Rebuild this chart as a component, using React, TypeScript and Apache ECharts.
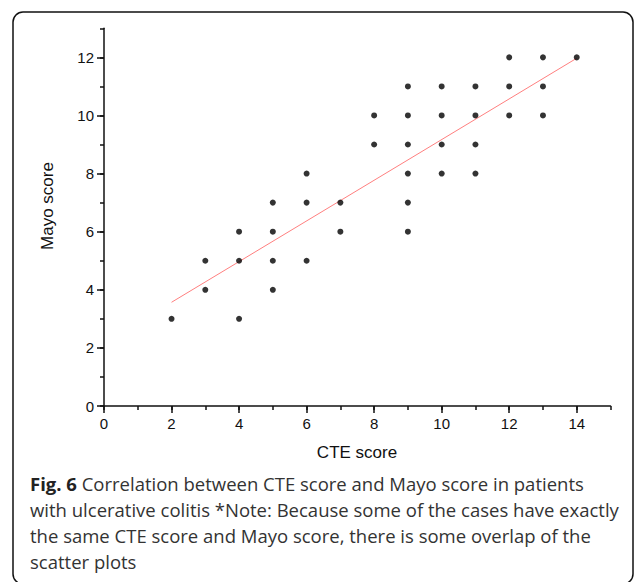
import React, { useEffect, useRef } from "react";
import * as echarts from "echarts";

// CTE score (x) and Mayo score (y) of each plotted point
const cteScores = [2, 3, 3, 4, 4, 4, 5, 5, 5, 5, 6, 6, 6, 7, 7, 8, 8, 9, 9, 9, 9, 9, 9, 10, 10, 10, 10, 11, 11, 11, 11, 12, 12, 12, 13, 13, 13, 14];
const mayoScores = [3, 4, 5, 3, 5, 6, 4, 5, 6, 7, 5, 7, 8, 6, 7, 9, 10, 6, 7, 8, 9, 10, 11, 8, 9, 10, 11, 8, 9, 10, 11, 10, 11, 12, 10, 11, 12, 12];

// fitted regression line end points
const fitX = [2, 14];
const fitY = [3.57, 11.97];

const xMajorTicks = [0, 2, 4, 6, 8, 10, 12, 14];
const yMajorTicks = [0, 2, 4, 6, 8, 10, 12];

const xTitle = "CTE score";
const yTitle = "Mayo score";
const captionBold = "Fig. 6";
const captionLines = [
  " Correlation between CTE score and Mayo score in patients",
  "with ulcerative colitis *Note: Because some of the cases have exactly",
  "the same CTE score and Mayo score, there is some overlap of the",
  "scatter plots",
];

const axisFont = "'Liberation Sans', Arial, sans-serif";

export default function App() {
  const ref = useRef<HTMLDivElement>(null);
  useEffect(() => {
    if (!ref.current) return;
    const chart = echarts.init(ref.current, undefined, { renderer: "svg" });
    const points = cteScores.map((x, i) => [x, mayoScores[i]]);
    const fitLine = fitX.map((x, i) => [x, fitY[i]]);
    const axisLine = { show: true, lineStyle: { color: "#111", width: 1.5 } };
    const baseX = {
      type: "value" as const,
      min: 0,
      max: 15,
      splitLine: { show: false },
    };
    const baseY = {
      type: "value" as const,
      min: 0,
      max: 13,
      splitLine: { show: false },
    };
    chart.setOption({
      animation: false,
      backgroundColor: "#fff",
      grid: { left: 104, right: 23.5, top: 28.3, bottom: 176 },
      xAxis: [
        {
          ...baseX,
          interval: 1,
          axisLine,
          axisTick: { show: true, length: 4, lineStyle: { color: "#111", width: 1.5 } },
          axisLabel: {
            margin: 10,
            fontFamily: axisFont,
            fontSize: 15,
            color: "#111",
            formatter: (v: number) => (xMajorTicks.includes(v) ? String(v) : ""),
          },
        },
        {
          ...baseX,
          interval: 2,
          position: "bottom",
          axisLine: { show: false },
          axisTick: {
            show: true,
            length: 7,
            customValues: xMajorTicks,
            lineStyle: { color: "#111", width: 1.5 },
          },
          axisLabel: { show: false },
        },
      ],
      yAxis: [
        {
          ...baseY,
          interval: 1,
          axisLine,
          axisTick: { show: true, length: 4, lineStyle: { color: "#111", width: 1.5 } },
          axisLabel: {
            margin: 10,
            fontFamily: axisFont,
            fontSize: 15,
            color: "#111",
            formatter: (v: number) => (yMajorTicks.includes(v) ? String(v) : ""),
          },
        },
        {
          ...baseY,
          interval: 2,
          position: "left",
          axisLine: { show: false },
          axisTick: {
            show: true,
            length: 7,
            customValues: yMajorTicks,
            lineStyle: { color: "#111", width: 1.5 },
          },
          axisLabel: { show: false },
        },
      ],
      series: [
        {
          type: "line",
          data: fitLine,
          symbol: "none",
          lineStyle: { color: "#ff7f7f", width: 1 },
          z: 1,
        },
        {
          type: "scatter",
          data: points,
          symbol: "circle",
          symbolSize: 6,
          itemStyle: { color: "#000" },
          z: 2,
        },
      ],
      graphic: [
        {
          type: "rect",
          shape: { x: 13, y: 12, width: 620, height: 572, r: 10 },
          style: { fill: "none", stroke: "#111", lineWidth: 1.5 },
          z: 0,
        },
        {
          type: "text",
          x: 357,
          y: 444,
          style: {
            text: xTitle,
            font: `17px ${axisFont}`,
            fill: "#111",
            align: "center",
            verticalAlign: "top",
          },
        },
        {
          type: "text",
          x: 47,
          y: 206,
          rotation: Math.PI / 2,
          style: {
            text: yTitle,
            font: `17px ${axisFont}`,
            fill: "#111",
            align: "center",
            verticalAlign: "middle",
          },
        },
        {
          type: "text",
          x: 30,
          y: 470,
          style: {
            text: "{b|" + captionBold + "}" + captionLines.join("\n"),
            fontFamily: "'Open Sans', sans-serif",
            fontSize: 18.5,
            lineHeight: 26.2,
            fill: "#333",
            rich: {
              b: {
                fontFamily: "'Open Sans', sans-serif",
                fontSize: 18.5,
                fontWeight: "bold",
                lineHeight: 26.2,
                fill: "#222",
              },
            },
          },
        },
      ],
    });
    return () => chart.dispose();
  }, []);
  return (
    <div
      ref={ref}
      style={{ position: "absolute", left: 0, top: 0, width: 634, height: 582 }}
    />
  );
}
